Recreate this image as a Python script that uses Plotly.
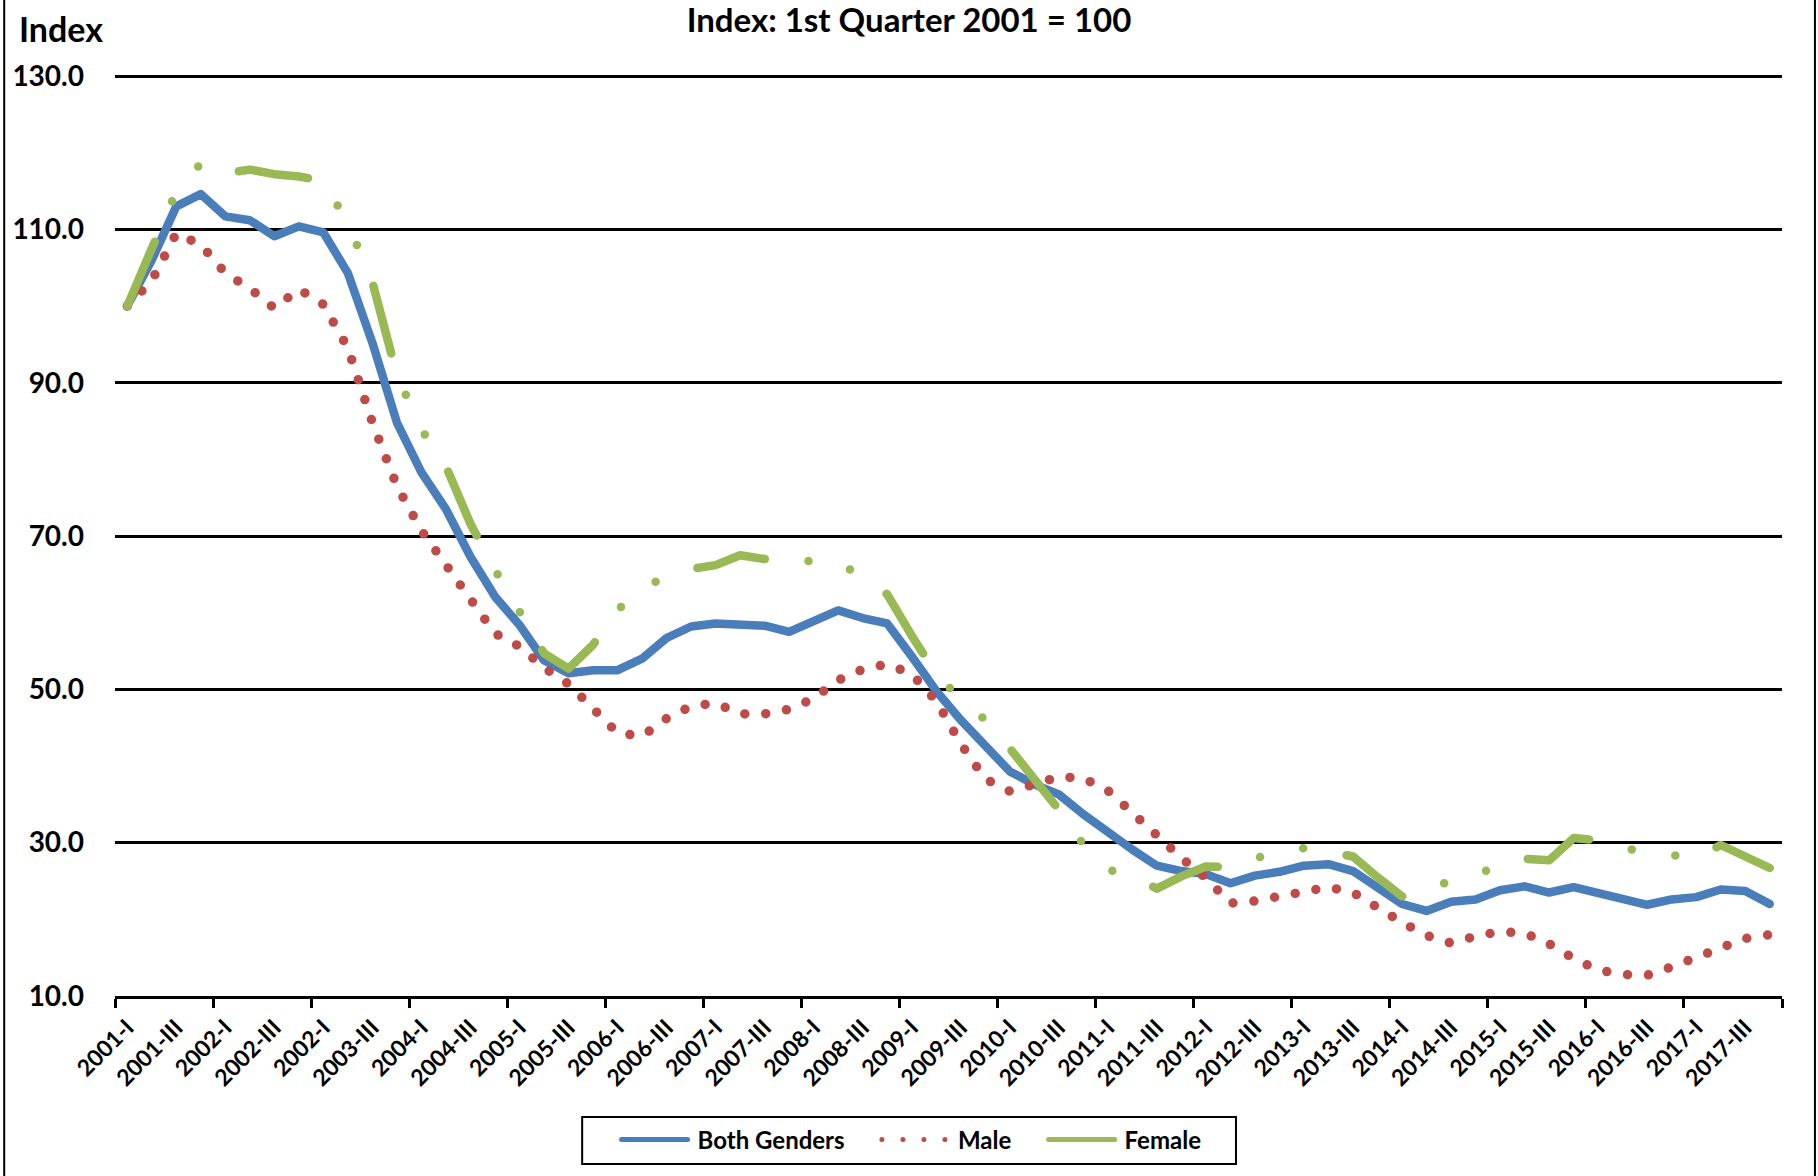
import plotly.graph_objects as go

# Quarterly index values, 2001-I .. 2017-IV (1st Quarter 2001 = 100)
both_genders = [
    100.0, 106.0, 113.0, 114.6, 111.7, 111.2, 109.1, 110.4,
    109.6, 104.3, 95.2, 84.8, 78.3, 73.5, 67.3, 62.1,
    58.4, 53.8, 52.1, 52.5, 52.5, 54.0, 56.7, 58.2,
    58.6, 58.4, 58.3, 57.5, 59.0, 60.3, 59.3, 58.6,
    54.3, 49.8, 46.0, 42.6, 39.3, 37.6, 36.3, 33.7,
    31.3, 29.1, 27.0, 26.3, 25.9, 24.7, 25.7, 26.2,
    27.0, 27.2, 26.3, 24.2, 22.0, 21.1, 22.3, 22.6,
    23.8, 24.3, 23.5, 24.2, 23.5, 22.6, 21.9, 22.6,
    22.9, 23.9, 23.7, 22.0,
]
male = [
    100.0, 103.3, 109.5, 108.0, 104.3, 102.3, 99.7, 102.2,
    100.2, 94.5, 84.8, 76.5, 70.7, 66.2, 61.4, 57.3,
    55.6, 52.8, 50.7, 47.6, 44.3, 43.9, 46.2, 47.8,
    48.2, 46.8, 46.8, 47.4, 48.8, 51.2, 52.6, 53.3,
    52.0, 48.5, 42.9, 38.3, 36.7, 37.6, 38.6, 38.4,
    36.8, 33.9, 30.8, 28.0, 25.4, 22.1, 22.4, 23.0,
    23.5, 24.2, 23.5, 21.4, 19.6, 17.9, 16.9, 17.8,
    18.4, 18.2, 16.8, 14.9, 13.4, 12.8, 12.7, 13.8,
    15.1, 16.3, 17.5, 18.0,
]
female = [
    100.0, 107.5, 115.0, 118.6, 117.3, 117.8, 117.2, 116.9,
    116.3, 110.8, 103.1, 91.0, 83.9, 79.1, 71.6, 65.6,
    60.2, 54.7, 52.7, 55.8, 60.3, 63.5, 64.5, 65.7,
    66.2, 67.5, 67.0, 66.5, 66.8, 66.7, 64.5, 62.4,
    57.0, 52.0, 48.7, 46.0, 42.3, 38.3, 34.3, 29.8,
    26.5, 25.6, 24.0, 25.6, 26.9, 26.8, 28.0, 28.6,
    29.3, 28.8, 28.2, 25.5, 23.0, 24.2, 25.0, 25.6,
    27.3, 27.9, 27.7, 30.6, 30.3, 29.3, 28.8, 28.5,
    28.0, 29.7, 28.2, 26.7,
]

# Axis labels, one for every second quarter
tick_labels = [
    "2001-I", "2001-III", "2002-I", "2002-III", "2002-I", "2003-III",
    "2004-I", "2004-III", "2005-I", "2005-III", "2006-I", "2006-III",
    "2007-I", "2007-III", "2008-I", "2008-III", "2009-I", "2009-III",
    "2010-I", "2010-III", "2011-I", "2011-III", "2012-I", "2012-III",
    "2013-I", "2013-III", "2014-I", "2014-III", "2015-I", "2015-III",
    "2016-I", "2016-III", "2017-I", "2017-III",
]
y_ticks = [10, 30, 50, 70, 90, 110, 130]

n_q = len(both_genders)
quarter_pos = list(range(n_q))
label_pos = list(range(0, n_q, 2))
year_bounds = [q - 0.5 for q in range(0, n_q + 1, 4)]

FONT = "Lato"
BLUE = "#4A7EBB"
RED = "#BE4B48"
GREEN = "#98B954"
PAD = "\u00a0" * 4  # spacing between legend entries

fig = go.Figure()
fig.add_trace(go.Scatter(
    x=quarter_pos, y=both_genders, mode="lines", name="Both Genders" + PAD,
    line=dict(color=BLUE, width=8.5),
))
fig.add_trace(go.Scatter(
    x=quarter_pos, y=male, mode="lines", name="Male" + PAD,
    line=dict(color=RED, width=9.5, dash="0px,21px"),
))
fig.add_trace(go.Scatter(
    x=quarter_pos, y=female, mode="lines", name="Female",
    line=dict(color=GREEN, width=8.5, dash="70px,44px,0px,44px,0px,44px"),
))

# plot area in pixels: left 112, right 1782, top 73, bottom 996
# (y range runs a little past 130 so the top gridline is kept)
L, R, T, B = 112, 36, 73, 180
W, H = 1818, 1176
pw, ph = W - L - R, H - T - B
Y_MIN, Y_MAX = 10, 130.4


def px_x(px):
    return (px - L) / pw


def px_y(py):
    return (H - B - py) / ph


fig.update_layout(
    width=W, height=H, autosize=False,
    margin=dict(l=L, r=R, t=T, b=B, pad=0),
    paper_bgcolor="white", plot_bgcolor="white",
    font=dict(family=FONT, color="black", size=24, weight="bold"),
    title=dict(
        text="Index: 1st Quarter 2001 = 100",
        x=0.5, xref="container", xanchor="center",
        y=1 - 20 / H, yref="container", yanchor="middle",
        font=dict(family=FONT, size=33, color="black", weight="bold"),
    ),
    xaxis=dict(
        range=[-0.5, n_q - 0.5],
        tickmode="array", tickvals=label_pos, ticktext=tick_labels,
        tickangle=-45, ticks="", ticklabelstandoff=6,
        tickfont=dict(family=FONT, size=23, color="black", weight="bold"),
        showgrid=False, zeroline=False,
        showline=True, linecolor="black", linewidth=3,
        minor=dict(tickmode="array", tickvals=year_bounds, ticks="outside",
                   ticklen=9, tickwidth=3, tickcolor="black", showgrid=False),
    ),
    yaxis=dict(
        range=[Y_MIN, Y_MAX],
        tickmode="array", tickvals=y_ticks, tickformat=".1f",
        ticks="", ticklabelstandoff=30,
        tickfont=dict(family=FONT, size=28, color="black", weight="bold"),
        showgrid=True, gridcolor="black", gridwidth=3,
        zeroline=False, showline=False,
    ),
    legend=dict(
        orientation="h", x=px_x(908), xanchor="center",
        y=px_y(1140), yanchor="middle",
        borderwidth=0, bgcolor="rgba(0,0,0,0)",
        font=dict(family=FONT, size=24, color="black", weight="bold"),
        itemwidth=75, itemsizing="constant",
    ),
    showlegend=True,
    annotations=[dict(
        text="Index", xref="paper", yref="paper",
        x=px_x(14), y=px_y(28), xanchor="left", yanchor="middle",
        showarrow=False,
        font=dict(family=FONT, size=34, color="black", weight="bold"),
    )],
    shapes=[
        # frame edges of the chart area
        dict(type="line", xref="paper", yref="paper",
             x0=px_x(1), x1=px_x(1), y0=px_y(0), y1=px_y(H),
             line=dict(color="black", width=2)),
        dict(type="line", xref="paper", yref="paper",
             x0=px_x(1815), x1=px_x(1815), y0=px_y(0), y1=px_y(H),
             line=dict(color="black", width=2)),
        # legend box
        dict(type="rect", xref="paper", yref="paper",
             x0=px_x(580), x1=px_x(1235), y0=px_y(1164), y1=px_y(1117),
             line=dict(color="black", width=2), fillcolor="rgba(0,0,0,0)"),
    ],
)

# round line caps/joins for the series and longer legend samples
post = """
var gd = document.getElementById('{plot_id}');
function styleLines(){
  gd.querySelectorAll('.scatterlayer .js-line').forEach(function(p){
    p.style.strokeLinecap = 'round'; p.style.strokeLinejoin = 'round';
  });
  gd.querySelectorAll('.legend .legendlines path').forEach(function(p){
    p.setAttribute('d', 'M9,0h66');
    p.style.strokeLinecap = 'round';
  });
}
styleLines();
gd.on('plotly_afterplot', styleLines);
"""

fig.write_html("out.html", post_script=post)
